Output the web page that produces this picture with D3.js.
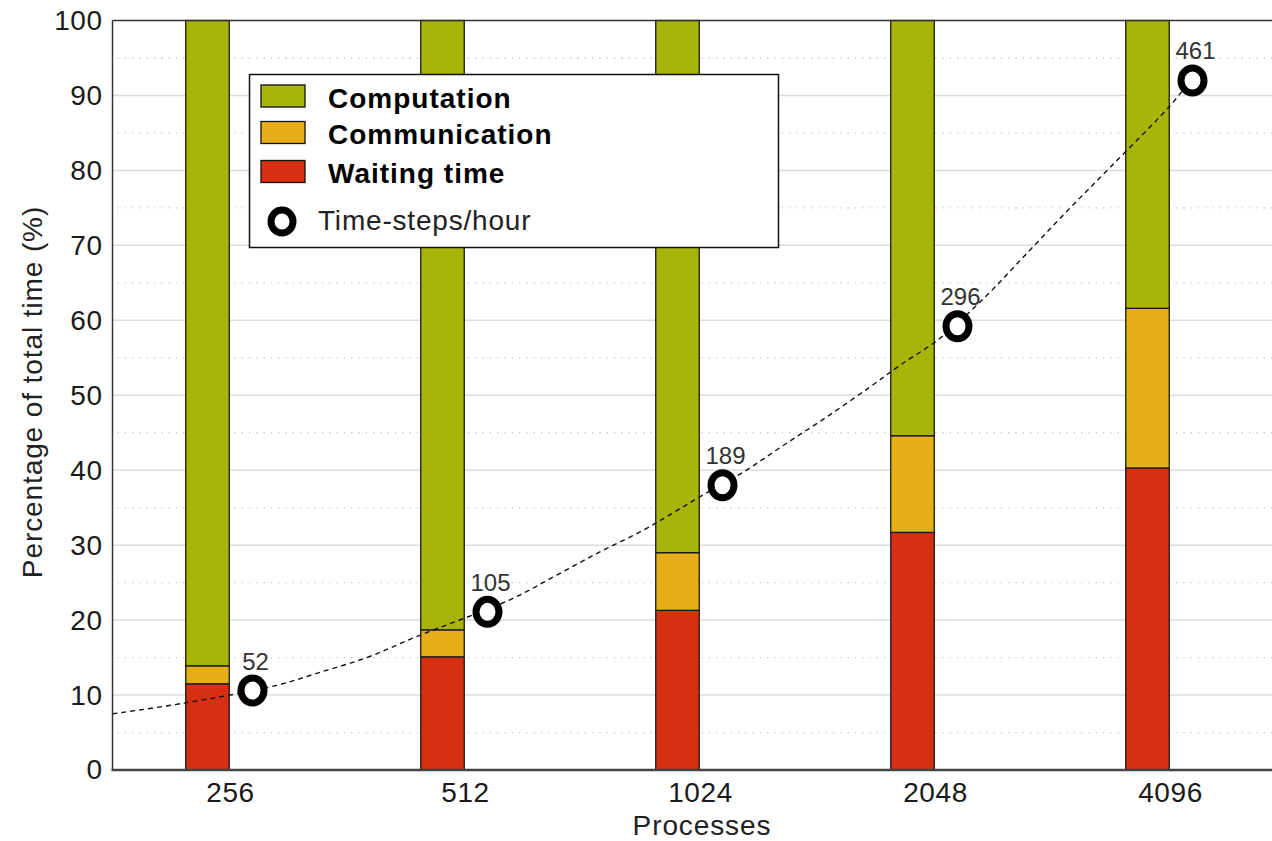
<!DOCTYPE html>
<html><head><meta charset="utf-8">
<script src="https://cdn.jsdelivr.net/npm/d3@7"></script>
<style>body{margin:0;background:#fff;}svg{display:block;font-family:"Liberation Sans",Arial,Helvetica,sans-serif;}</style>
</head><body>
<svg id="chart" width="1272" height="841"></svg>
<script>
// ---- data ----
const processes = ["256", "512", "1024", "2048", "4096"];
const waiting = [11.5, 15.1, 21.3, 31.7, 40.3];
const communication = [2.4, 3.6, 7.7, 12.9, 21.3];
const computation = processes.map((p, i) => 100 - waiting[i] - communication[i]);
const stepsPct = [10.6, 21.1, 38.0, 59.2, 92.0];
const stepsLabels = ["52", "105", "189", "296", "461"];
// fitted trend line (x in category-index units, y in %)
const fitX = [-0.5, -0.2, 0.199, 0.369, 0.582, 0.794, 1.191, 1.39, 1.574, 1.759, 1.88, 1.991, 2.177, 2.354, 2.539, 2.723, 2.851, 3.021, 3.213, 3.39, 3.566, 3.745, 3.991, 4.055];
const fitY = [7.5, 8.9, 11.3, 12.9, 15.0, 17.8, 22.7, 26.0, 29.1, 32.0, 34.2, 36.3, 39.6, 43.3, 47.1, 51.1, 54.0, 57.6, 63.1, 68.9, 74.7, 80.4, 88.3, 90.7];
const yTicks = [0, 10, 20, 30, 40, 50, 60, 70, 80, 90, 100];
const yMinor = [5, 15, 25, 35, 45, 55, 65, 75, 85, 95];
const seriesNames = ["Computation", "Communication", "Waiting time"];
const colors = {"Computation": "#a9b40a", "Communication": "#e7ae17", "Waiting time": "#d62f12"};

// ---- layout ----
const L = 112.5, R = 1272, T = 20.5, B = 770;
const svg = d3.select("#chart");
const x = d3.scaleLinear().domain([0, 4]).range([230, 1170]);
const y = d3.scaleLinear().domain([0, 100]).range([B, T]);
const barW = 43.5, barOff = -22.5, markOff = 22.5;

// grid
svg.append("g").selectAll("line").data(yTicks.filter(d => d > 0 && d < 100)).join("line")
  .attr("x1", L).attr("x2", R).attr("y1", d => y(d)).attr("y2", d => y(d))
  .attr("stroke", "#dcdcdc").attr("stroke-width", 1.5);
svg.append("g").selectAll("line").data(yMinor).join("line")
  .attr("x1", L + 5).attr("x2", R).attr("y1", d => y(d)).attr("y2", d => y(d))
  .attr("stroke", "#c8c8c8").attr("stroke-width", 1.3).attr("stroke-dasharray", "1.3,6");

// stacked bars
const rows = processes.map((p, i) => ({i, "Waiting time": waiting[i], "Communication": communication[i], "Computation": computation[i]}));
const stack = d3.stack().keys(["Waiting time", "Communication", "Computation"])(rows);
svg.append("g").selectAll("g").data(stack).join("g")
  .attr("fill", s => colors[s.key])
  .selectAll("rect").data(s => s).join("rect")
  .attr("x", d => x(d.data.i) + barOff - barW / 2)
  .attr("width", barW)
  .attr("y", d => y(d[1]))
  .attr("height", d => y(d[0]) - y(d[1]))
  .attr("stroke", "#1a1a1a").attr("stroke-width", 1.3);

// fit line
const fitPts = fitX.map((v, k) => [v, fitY[k]]);
svg.append("path").datum(fitPts)
  .attr("d", d3.line().x(d => x(d[0])).y(d => y(d[1])).curve(d3.curveCatmullRom.alpha(0.5)))
  .attr("fill", "none").attr("stroke", "#111").attr("stroke-width", 1.4).attr("stroke-dasharray", "5,4");

// markers
const mk = svg.append("g");
mk.selectAll("ellipse").data(stepsPct).join("ellipse")
  .attr("cx", (d, i) => x(i) + markOff).attr("cy", d => y(d))
  .attr("rx", 11.5).attr("ry", 12.5)
  .attr("fill", "#fff").attr("stroke", "#000").attr("stroke-width", 7);
mk.selectAll("text").data(stepsLabels).join("text")
  .attr("x", (d, i) => x(i) + markOff + 3).attr("y", (d, i) => y(stepsPct[i]) - 21)
  .attr("text-anchor", "middle").attr("font-size", 24).attr("fill", "#333").text(d => d);

// axes frame
svg.append("line").attr("x1", L).attr("x2", R).attr("y1", T).attr("y2", T).attr("stroke", "#333").attr("stroke-width", 1.5);
svg.append("line").attr("x1", L).attr("x2", L).attr("y1", T).attr("y2", B).attr("stroke", "#333").attr("stroke-width", 1.5);
svg.append("line").attr("x1", L - 1).attr("x2", R).attr("y1", B).attr("y2", B).attr("stroke", "#444").attr("stroke-width", 2.5);

// y tick labels
const yAxis = d3.axisLeft(y).tickValues(yTicks).tickSize(0).tickPadding(10);
const gy = svg.append("g").attr("transform", `translate(${L},0)`).call(yAxis);
gy.select(".domain").remove();
gy.selectAll("text").attr("font-size", 28).attr("letter-spacing", 0.5).attr("fill", "#1a1a1a").attr("font-family", "Liberation Sans, Arial, sans-serif");

// x tick labels
const xAxis = d3.axisBottom(x).tickValues([0, 1, 2, 3, 4]).tickFormat(i => processes[i]).tickSize(0).tickPadding(12);
const gx = svg.append("g").attr("transform", `translate(0,${B})`).call(xAxis);
gx.select(".domain").remove();
gx.selectAll("text").attr("font-size", 28).attr("letter-spacing", 0.6).attr("fill", "#1a1a1a").attr("font-family", "Liberation Sans, Arial, sans-serif");

// axis titles
svg.append("text").attr("x", 702).attr("y", 835).attr("text-anchor", "middle").attr("font-size", 28).attr("letter-spacing", 0.9).attr("fill", "#222").text("Processes");
svg.append("text").attr("transform", "translate(42,392) rotate(-90)").attr("text-anchor", "middle").attr("font-size", 28).attr("letter-spacing", 0.9).attr("fill", "#222").text("Percentage of total time (%)");

// legend
const lg = svg.append("g");
lg.append("rect").attr("x", 249.5).attr("y", 74.5).attr("width", 529).attr("height", 173)
  .attr("fill", "#fff").attr("stroke", "#111").attr("stroke-width", 1.5);
const rowY = [96, 132.5, 171.5];
seriesNames.forEach((name, k) => {
  lg.append("rect").attr("x", 261).attr("y", rowY[k] - 11).attr("width", 44).attr("height", 22)
    .attr("fill", colors[name]).attr("stroke", "#111").attr("stroke-width", 1.3);
  lg.append("text").attr("x", 328).attr("y", rowY[k] + 11.5).attr("font-size", 28).attr("letter-spacing", 1)
    .attr("font-weight", "bold").attr("fill", "#000").text(name);
});
lg.append("ellipse").attr("cx", 282).attr("cy", 221.5).attr("rx", 11).attr("ry", 11.5)
  .attr("fill", "#fff").attr("stroke", "#000").attr("stroke-width", 7);
lg.append("text").attr("x", 318).attr("y", 229.5).attr("font-size", 28).attr("letter-spacing", 0.8).attr("fill", "#222").text("Time-steps/hour");
</script>
</body></html>
